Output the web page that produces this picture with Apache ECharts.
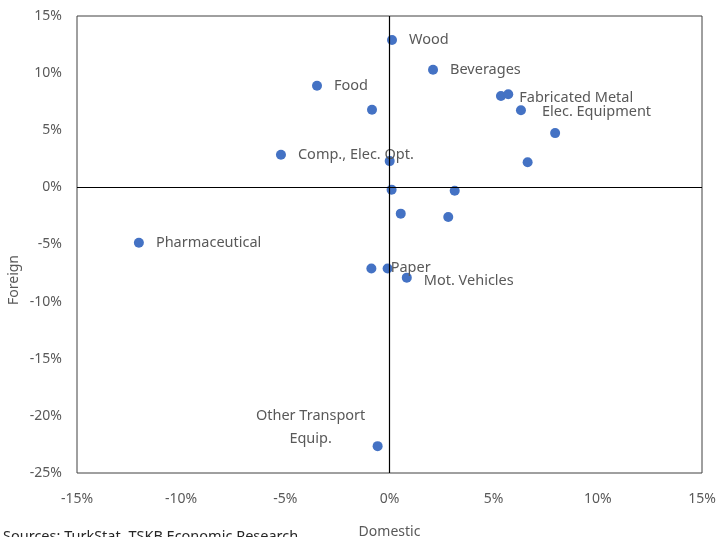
<!DOCTYPE html>
<html>
<head>
<meta charset="utf-8">
<script src="https://cdn.jsdelivr.net/npm/echarts@6/dist/echarts.min.js"></script>
<style>
html,body{margin:0;padding:0;background:#fff;}
#c{width:716px;height:537px;}
</style>
</head>
<body>
<div id="c"></div>
<script>
// Sector labels ('' = unlabeled point)
var names = ['Wood','Beverages','Food','','','Fabricated Metal','Elec. Equipment','','','Comp., Elec. Opt.','','','','','','Pharmaceutical','','Paper','Mot. Vehicles','Other Transport\nEquip.'];
// Domestic growth (%)
var domestic = [0.12, 2.09, -3.48, -0.84, 5.35, 5.70, 6.31, 7.95, 6.63, -5.21, 0.01, 0.10, 3.13, 0.54, 2.82, -12.03, -0.87, -0.09, 0.83, -0.57];
// Foreign growth (%)
var foreign = [12.9, 10.3, 8.9, 6.8, 8.0, 8.15, 6.75, 4.75, 2.2, 2.85, 2.3, -0.2, -0.3, -2.3, -2.6, -4.85, -7.1, -7.1, -7.9, -22.65];
var xTicks = [-15, -10, -5, 0, 5, 10, 15];
var yTicks = [-25, -20, -15, -10, -5, 0, 5, 10, 15];

var font = 'Noto Sans';
var labelStyle = {
  'Fabricated Metal': {offset: [-6, 4]},
  'Elec. Equipment': {offset: [4, 2]},
  'Paper': {offset: [-14, -1]},
  'Mot. Vehicles': {offset: [0, 3]},
  'Other Transport\nEquip.': {position: [-62, -14], align: 'center', verticalAlign: 'middle', lineHeight: 23}
};

var data = domestic.map(function (x, i) {
  var item = {value: [x, foreign[i]], name: names[i]};
  if (names[i]) {
    var l = {show: true, formatter: names[i]};
    var s = labelStyle[names[i]];
    if (s) for (var k in s) l[k] = s[k];
    item.label = l;
  }
  return item;
});

var chart = echarts.init(document.getElementById('c'));
chart.setOption({
  animation: false,
  grid: {left: 77, right: 14, top: 16, bottom: 64, show: true, borderColor: '#404040', borderWidth: 1, backgroundColor: 'transparent', outerBoundsMode: 'none', containLabel: false},
  xAxis: {
    type: 'value', min: xTicks[0], max: xTicks[xTicks.length - 1], interval: 5,
    axisLine: {show: false}, axisTick: {show: false}, splitLine: {show: false},
    axisLabel: {formatter: '{value}%', color: '#595959', fontFamily: font, fontSize: 14, margin: 19},
    name: 'Domestic', nameLocation: 'middle', nameGap: 52,
    nameTextStyle: {color: '#595959', fontFamily: font, fontSize: 14}
  },
  yAxis: {
    type: 'value', min: yTicks[0], max: yTicks[yTicks.length - 1], interval: 5,
    axisLine: {show: false}, axisTick: {show: false}, splitLine: {show: false},
    axisLabel: {formatter: '{value}%', color: '#595959', fontFamily: font, fontSize: 14, margin: 15}
  },
  graphic: [
    {type: 'text', left: 3, top: 529, style: {text: 'Sources: TurkStat, TSKB Economic Research', fill: '#262626', font: '14.5px "Noto Sans"'}},
    {type: 'text', x: 14, y: 280, rotation: Math.PI / 2, style: {text: 'Foreign', fill: '#595959', font: '14px "Noto Sans"', align: 'center', verticalAlign: 'middle'}}
  ],
  series: [{
    type: 'scatter',
    symbolSize: 10,
    itemStyle: {color: '#4472C4', opacity: 1},
    label: {show: false, position: 'right', distance: 12, color: '#595959', fontFamily: font, fontSize: 14.5},
    data: data,
    markLine: {
      silent: true, symbol: ['none', 'none'], label: {show: false},
      lineStyle: {color: '#000', width: 1.2, type: 'solid'},
      data: [{xAxis: 0}, {yAxis: 0}]
    }
  }]
});
</script>
</body>
</html>
